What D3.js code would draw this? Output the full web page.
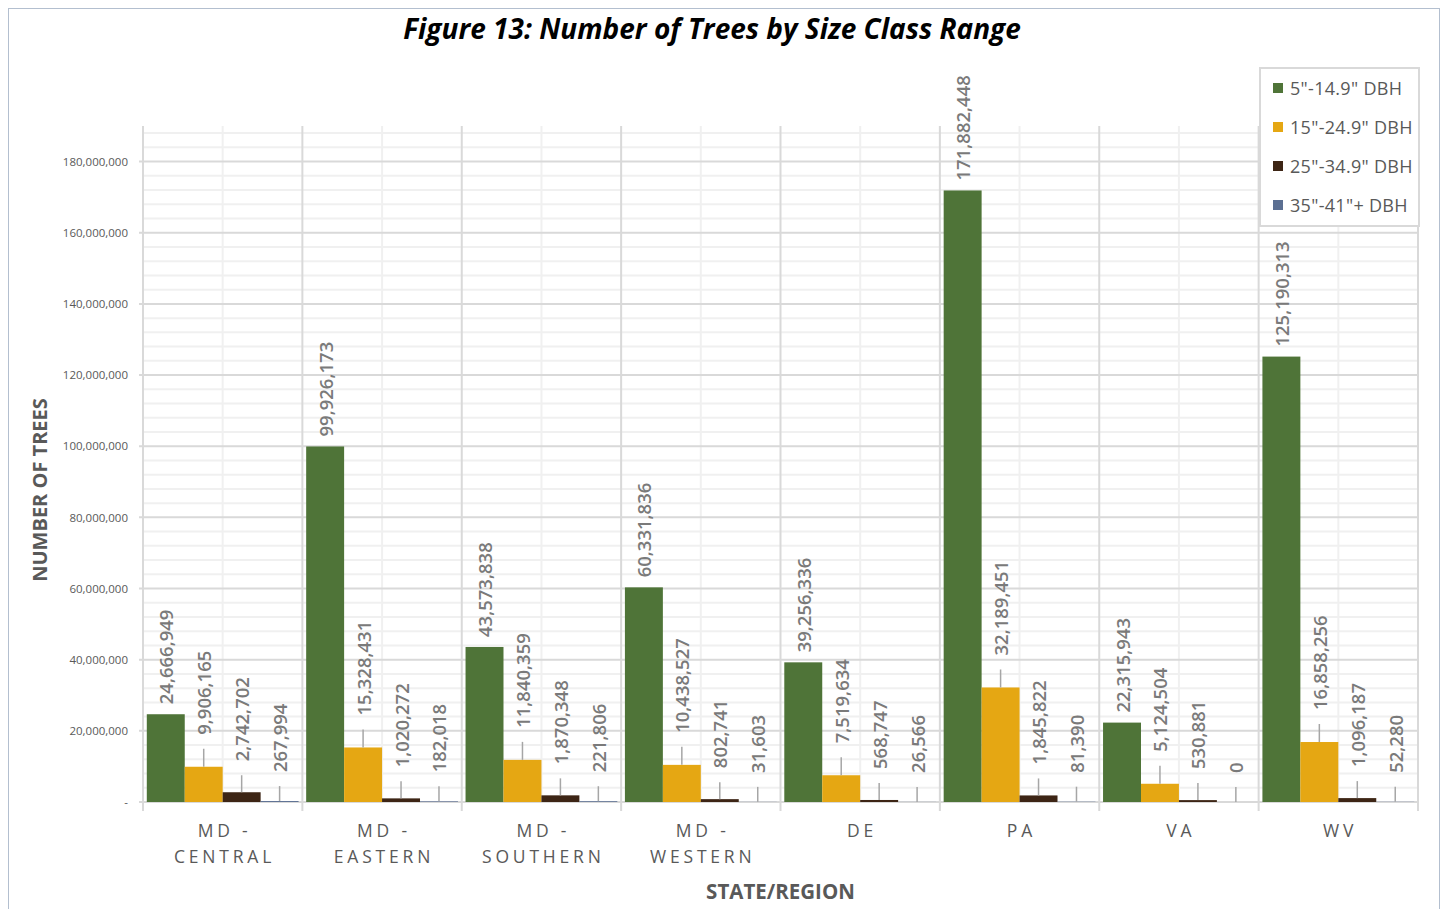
<!DOCTYPE html>
<html>
<head>
<meta charset="utf-8">
<script src="https://cdn.jsdelivr.net/npm/d3@7"></script>
<style>
  html, body { margin: 0; padding: 0; background: #ffffff; }
  svg { display: block; }
  text { font-family: "Open Sans", "Noto Sans", sans-serif; }
</style>
</head>
<body>
<svg id="chart" width="1443" height="909"></svg>
<script>
// Regions (two-line tick labels) and size-class series
const regions = ["MD - CENTRAL", "MD - EASTERN", "MD - SOUTHERN", "MD - WESTERN", "DE", "PA", "VA", "WV"];
const regionLines = [["MD -", "CENTRAL"], ["MD -", "EASTERN"], ["MD -", "SOUTHERN"], ["MD -", "WESTERN"], ["DE"], ["PA"], ["VA"], ["WV"]];
const seriesNames = ["5\"-14.9\" DBH", "15\"-24.9\" DBH", "25\"-34.9\" DBH", "35\"-41\"+ DBH"];
const seriesColors = ["#4f7438", "#e5a713", "#3d2515", "#5b6f92"];

const dbh5to15  = [24666949, 99926173, 43573838, 60331836, 39256336, 171882448, 22315943, 125190313];
const dbh15to25 = [9906165, 15328431, 11840359, 10438527, 7519634, 32189451, 5124504, 16858256];
const dbh25to35 = [2742702, 1020272, 1870348, 802741, 568747, 1845822, 530881, 1096187];
const dbh35plus = [267994, 182018, 221806, 31603, 26566, 81390, 0, 52280];
const seriesValues = [dbh5to15, dbh15to25, dbh25to35, dbh35plus];

const yMax = 190000000;
const yMajorTicks = [0, 20000000, 40000000, 60000000, 80000000, 100000000, 120000000, 140000000, 160000000, 180000000];

(function draw() {
const svg = d3.select("#chart");
const plotLeft = 143, plotRight = 1418, plotTop = 126, plotBottom = 802;

// Outer frame
svg.append("rect")
  .attr("x", 8.5).attr("y", 8.5).attr("width", 1431).attr("height", 920)
  .attr("fill", "#ffffff").attr("stroke", "#b3bfcf").attr("stroke-width", 1);

const x = d3.scaleBand().domain(regions).range([plotLeft, plotRight]).paddingInner(0).paddingOuter(0);
const xs = d3.scaleBand().domain(d3.range(4)).range([0, x.bandwidth()]).paddingInner(0).paddingOuter(0.1);
const y = d3.scaleLinear().domain([0, yMax]).range([plotBottom, plotTop]);

// Minor horizontal gridlines every 4M
const minor = d3.range(4000000, yMax + 1, 4000000).filter(v => v % 20000000 !== 0);
svg.append("g").selectAll("line").data(minor).join("line")
  .attr("x1", plotLeft).attr("x2", plotRight)
  .attr("y1", d => y(d)).attr("y2", d => y(d))
  .attr("stroke", "#f0f0f0").attr("stroke-width", 2);

// Minor vertical gridlines at category centers
svg.append("g").selectAll("line").data(regions).join("line")
  .attr("x1", d => x(d) + x.bandwidth() / 2).attr("x2", d => x(d) + x.bandwidth() / 2)
  .attr("y1", plotTop).attr("y2", plotBottom)
  .attr("stroke", "#f0f0f0").attr("stroke-width", 2);

// Major horizontal gridlines
svg.append("g").selectAll("line").data(yMajorTicks.slice(1)).join("line")
  .attr("x1", plotLeft - 4).attr("x2", plotRight)
  .attr("y1", d => y(d)).attr("y2", d => y(d))
  .attr("stroke", "#d9d9d9").attr("stroke-width", 2);

// Major vertical gridlines at category boundaries
const bounds = regions.map(d => x(d)).concat([plotRight]);
svg.append("g").selectAll("line").data(bounds).join("line")
  .attr("x1", d => d).attr("x2", d => d)
  .attr("y1", plotTop).attr("y2", plotBottom + 9)
  .attr("stroke", "#d9d9d9").attr("stroke-width", 2);

// X axis baseline
svg.append("line")
  .attr("x1", plotLeft - 4).attr("x2", plotRight).attr("y1", plotBottom).attr("y2", plotBottom)
  .attr("stroke", "#d9d9d9").attr("stroke-width", 2);

// Y axis tick labels
const yAxis = d3.axisLeft(y).tickValues(yMajorTicks)
  .tickFormat(d => d === 0 ? "-" : d3.format(",")(d))
  .tickSize(0).tickPadding(15);
const gy = svg.append("g").attr("transform", `translate(${plotLeft},0)`).call(yAxis);
gy.select(".domain").remove();
gy.selectAll("text")
  .attr("fill", "#595959")
  .style("font-size", "11.5px")
  .style("font-family", "\"Open Sans\", sans-serif");

// Bars
const bars = [];
regions.forEach((r, i) => {
  seriesValues.forEach((vals, s) => {
    bars.push({ region: r, s, value: vals[i] });
  });
});

svg.append("g").selectAll("rect").data(bars).join("rect")
  .attr("x", d => x(d.region) + xs(d.s))
  .attr("width", xs.bandwidth())
  .attr("y", d => y(d.value))
  .attr("height", d => Math.max(0, plotBottom - y(d.value)))
  .attr("fill", d => seriesColors[d.s]);

// Data labels with leader lines
const labelGap = [10, 32, 31, 29];
const fmt = d3.format(",");
const lab = svg.append("g");
bars.forEach(d => {
  const cx = x(d.region) + xs(d.s) + xs.bandwidth() / 2;
  const barTop = y(d.value);
  const lb = barTop - labelGap[d.s];
  if (barTop - lb >= 20) {
    lab.append("line")
      .attr("x1", cx).attr("x2", cx)
      .attr("y1", lb + 14).attr("y2", barTop)
      .attr("stroke", "#a6a6a6").attr("stroke-width", 1.5);
  }
  lab.append("text")
    .attr("transform", `translate(${cx},${lb}) rotate(-90)`)
    .attr("text-anchor", "start")
    .attr("dominant-baseline", "central")
    .attr("fill", "#7a7a7a")
    .style("font-size", "18.5px")
    .style("font-weight", 600)
    .text(fmt(d.value));
});

// X tick labels (two lines, letter-spaced)
const ls = 3.8;
const xl = svg.append("g");
regions.forEach((r, i) => {
  const cx = x(r) + x.bandwidth() / 2 + ls / 2;
  regionLines[i].forEach((line, j) => {
    xl.append("text")
      .attr("x", cx).attr("y", 837 + j * 26)
      .attr("text-anchor", "middle")
      .attr("fill", "#595959")
      .style("font-size", "17.5px")
      .style("letter-spacing", ls + "px")
      .text(line);
  });
});

// Axis titles
svg.append("text")
  .attr("x", (plotLeft + plotRight) / 2).attr("y", 899)
  .attr("text-anchor", "middle")
  .attr("fill", "#595959")
  .style("font-size", "20.5px").style("font-weight", 700)
  .text("STATE/REGION");

svg.append("text")
  .attr("transform", "translate(47,490) rotate(-90)")
  .attr("text-anchor", "middle")
  .attr("fill", "#595959")
  .style("font-size", "20px").style("font-weight", 700)
  .text("NUMBER OF TREES");

// Title
svg.append("text")
  .attr("x", 712).attr("y", 39)
  .attr("text-anchor", "middle")
  .attr("fill", "#000000")
  .style("font-size", "28px").style("font-weight", 700).style("font-style", "italic")
  .text("Figure 13: Number of Trees by Size Class Range");

// Legend
const lg = svg.append("g");
lg.append("rect")
  .attr("x", 1260).attr("y", 68).attr("width", 159).attr("height", 158)
  .attr("fill", "#ffffff").attr("stroke", "#d9d9d9").attr("stroke-width", 2);
seriesNames.forEach((n, i) => {
  const cy = 88 + i * 39;
  lg.append("rect")
    .attr("x", 1273).attr("y", cy - 5).attr("width", 10).attr("height", 10)
    .attr("fill", seriesColors[i]);
  lg.append("text")
    .attr("x", 1290).attr("y", cy)
    .attr("dominant-baseline", "central")
    .attr("fill", "#595959")
    .style("font-size", "18px")
    .style("letter-spacing", "0.3px")
    .text(n);
});
})();
</script>
</body>
</html>
